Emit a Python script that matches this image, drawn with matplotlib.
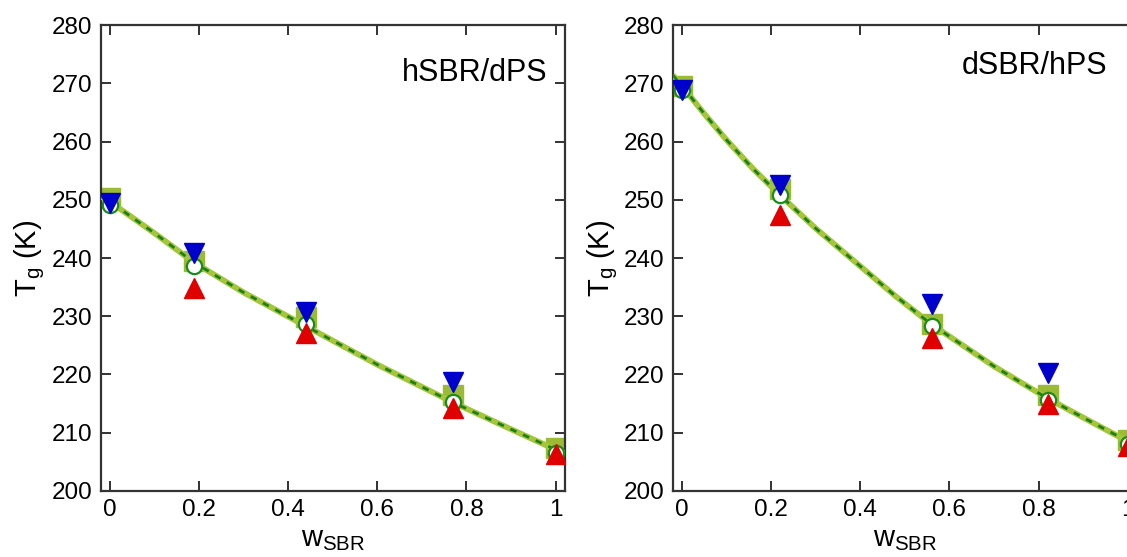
"""
Tg vs SBR weight fraction for hSBR/dPS and dSBR/hPS blends
"""

import numpy as np
import matplotlib.pyplot as plt

plt.rcParams['font.family'] = ['Liberation Sans', 'DejaVu Sans']
plt.rcParams['mathtext.fontset'] = 'custom'
plt.rcParams['mathtext.rm'] = 'Liberation Sans'
plt.rcParams['mathtext.it'] = 'Liberation Sans'

# ---- hSBR/dPS ----
w_h = [0, 0.19, 0.44, 0.77, 1.0]
sq_h = [250.3, 239.4, 229.8, 216.4, 207.4]
circ_h = [249.1, 238.7, 228.6, 215.2, 206.6]
w_h_blue = [0, 0.19, 0.44, 0.77]
blue_h = [249.4, 240.9, 230.8, 218.7]
w_h_red = [0.19, 0.44, 0.77, 1.0]
red_h = [234.9, 227.1, 214.3, 206.3]
# fit curve
fit_w_h = [-0.02, 0, 0.1, 0.19, 0.3, 0.44, 0.6, 0.77, 0.9, 1.0, 1.02]
fit_T_h = [250.6, 249.7, 244.3, 239.2, 234.1, 228.3, 221.7, 215.2, 210.6, 207.1, 206.5]

# ---- dSBR/hPS ----
w_d = [0, 0.22, 0.56, 0.82, 1.0]
sq_d = [269.6, 251.8, 228.6, 216.5, 208.8]
circ_d = [268.9, 250.8, 228.3, 215.7, 208.1]
w_d_blue = [0, 0.22, 0.56, 0.82]
blue_d = [268.8, 252.6, 232.1, 220.3]
w_d_red = [0.22, 0.56, 0.82, 1.0]
red_d = [247.4, 226.3, 215.0, 207.8]
fit_w_d = [-0.02, 0, 0.05, 0.1, 0.16, 0.22, 0.3, 0.4, 0.48, 0.56, 0.7, 0.82, 0.9, 1.0, 1.04]
fit_T_d = [271.4, 269.6, 264.8, 260.3, 255.3, 250.8, 245.1, 238.6, 233.4, 228.6, 221.4, 215.9, 212.6, 208.5, 207.2]

yticks = [200, 210, 220, 230, 240, 250, 260, 270, 280]
xticks = [0, 0.2, 0.4, 0.6, 0.8, 1]
xticklabels = ['0', '0.2', '0.4', '0.6', '0.8', '1']


def draw_panel(ax, w, sq, circ, wb, blue, wr, red, fw, fT, label, lx, ly):
    ax.plot(w, sq, 's', color='#9cbb35', ms=14, mec='#9cbb35', zorder=2)
    ax.plot(fw, fT, '-', color='#a5c63b', lw=4.2, zorder=3, solid_capstyle='butt')
    ax.plot(fw, fT, '--', color='#1b7f1b', lw=2.0, dashes=(2.4, 2.6), zorder=4)
    ax.plot(w, circ, 'o', mfc='white', mec='#1a8c1a', ms=11, mew=1.6, zorder=5)
    ax.plot(wb, blue, 'v', color='#0000cd', ms=14, zorder=6)
    ax.plot(wr, red, '^', color='#e00000', ms=14, zorder=7)

    ax.set_xlim(-0.02, 1.02)
    ax.set_ylim(200, 280)
    ax.set_xticks(xticks)
    ax.set_xticklabels(xticklabels)
    ax.set_yticks(yticks)
    ax.tick_params(direction='in', length=7, width=1.3, labelsize=17.5,
                   top=True, right=True, pad=6, color='#222222')
    for s in ax.spines.values():
        s.set_linewidth(1.6)
        s.set_color('#333333')
    ax.set_xlabel(r'w$_{\mathregular{SBR}}$', fontsize=21, labelpad=3)
    ax.set_ylabel(r'T$_{\mathregular{g}}$ (K)', fontsize=21, labelpad=3)
    ax.text(lx, ly, label, fontsize=22, ha='right', va='center')


fig = plt.figure(figsize=(11.27, 5.57), dpi=100)
ax1 = fig.add_axes([0.0893, 0.1185, 0.4117, 0.8366])
ax2 = fig.add_axes([0.597, 0.1185, 0.4117, 0.8366])

draw_panel(ax1, w_h, sq_h, circ_h, w_h_blue, blue_h, w_h_red, red_h,
           fit_w_h, fit_T_h, 'hSBR/dPS', 0.981, 271.8)
draw_panel(ax2, w_d, sq_d, circ_d, w_d_blue, blue_d, w_d_red, red_d,
           fit_w_d, fit_T_d, 'dSBR/hPS', 0.954, 273.0)

fig.savefig('out.png', dpi=100)
